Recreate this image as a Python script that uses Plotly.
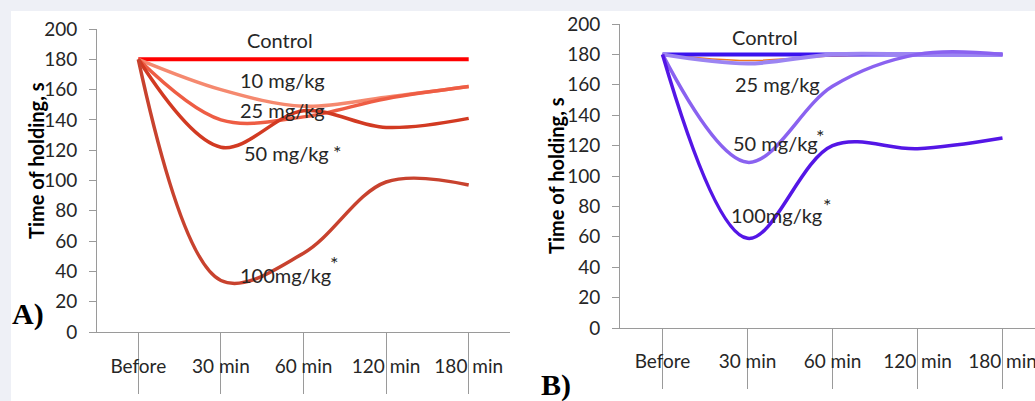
import plotly.graph_objects as go

# ---------------- data ----------------
categories = ["Before", "30 min", "60 min", "120 min", "180 min"]
y_ticks = [0, 20, 40, 60, 80, 100, 120, 140, 160, 180, 200]

# Panel A
a_control = [180, 180, 180, 180, 180]
a_10 = [180, 160, 149, 155, 162]
a_25 = [180, 140, 142, 154, 162]
a_50 = [180, 122, 146, 135, 141]
a_100 = [180, 34, 52, 99, 97]

# Panel B
b_control = [180, 180, 180, 180, 180]
b_10 = [180, 176, 179, 180, 180]
b_25 = [180, 174, 180, 180, 180]
b_50 = [180, 109, 159, 180, 180]
b_100 = [180, 59, 120, 118, 125]

W, H = 1035, 401
FONT = "Lato"
TXT = "#262626"
AX = "#9a9a9a"

xi = list(range(len(categories)))

fig = go.Figure()


def add_line(vals, color, width, xa, ya):
    fig.add_trace(go.Scatter(
        x=xi, y=vals, mode="lines", xaxis=xa, yaxis=ya,
        line=dict(color=color, width=width, shape="spline", smoothing=1.0),
        showlegend=False, hoverinfo="skip"))


# Panel A lines
add_line(a_control, "#ff0000", 4, "x", "y")
add_line(a_10, "#f5896f", 3.5, "x", "y")
add_line(a_25, "#ee5d44", 3.5, "x", "y")
add_line(a_50, "#d23a22", 3.5, "x", "y")
add_line(a_100, "#c8422e", 3.5, "x", "y")

# Panel B lines
add_line(b_10, "#f07820", 1.5, "x2", "y2")
add_line(b_control, "#3a12ee", 4, "x2", "y2")
add_line(b_25, "#9c84f2", 4, "x2", "y2")
add_line(b_50, "#8a62f0", 3.5, "x2", "y2")
add_line(b_100, "#5416e6", 3.5, "x2", "y2")


def px_x(p):
    return p / W


def px_y(p):
    return 1 - p / H


common_x = dict(
    type="linear", tickmode="array", tickvals=xi, ticktext=categories,
    showline=True, linecolor=AX, linewidth=1, showgrid=False, zeroline=False,
    ticks="outside", tickcolor=AX, tickwidth=1, automargin=False,
    ticklabeloverflow="allow",
    tickfont=dict(family=FONT, size=19, color=TXT),
)
common_y = dict(
    range=[0, 200], tickmode="array", tickvals=y_ticks,
    showline=True, linecolor=AX, linewidth=1, showgrid=False, zeroline=False,
    ticks="outside", ticklen=7, tickcolor=AX, tickwidth=1, automargin=False,
    tickfont=dict(family=FONT, size=19, color=TXT),
    ticklabelstandoff=8,
)

fig.update_layout(
    width=W, height=H,
    margin=dict(l=0, r=0, t=0, b=0, autoexpand=False),
    paper_bgcolor="#eef0f6",
    plot_bgcolor="rgba(0,0,0,0)",
    xaxis=dict(common_x, domain=[px_x(97), px_x(510)], range=[-0.5, 4.5],
               anchor="y"),
    yaxis=dict(common_y, domain=[px_y(332), px_y(29)], anchor="x"),
    xaxis2=dict(common_x, domain=[px_x(620), 1.0],
                range=[-0.5, -0.5 + 415 / 85], anchor="y2"),
    yaxis2=dict(common_y, domain=[px_y(328), px_y(24)], anchor="x2"),
)

# x tick marks: labels at category centres, tick lines at boundaries
for ax, tl, so in (("xaxis", 61, -44), ("xaxis2", 60, -44)):
    fig.layout[ax].update(tickson="boundaries", ticklen=tl,
                          ticklabelstandoff=so)

# white panel behind charts
fig.add_shape(type="rect", xref="paper", yref="paper",
              x0=px_x(11), x1=1, y0=0, y1=px_y(11),
              fillcolor="white", line=dict(width=0), layer="below")


def ann(text, x, y, xa, ya, xanchor="center", size=20, **kw):
    fig.add_annotation(text=text, x=x, y=y, xref=xa, yref=ya,
                       xanchor=xanchor, yanchor="middle", showarrow=False,
                       font=dict(family=FONT, size=size, color=TXT), **kw)


# Panel A labels
ann("Control", 1.71, 192.7, "x", "y")
ann("10 mg/kg", 1.74, 166.3, "x", "y")
ann("25 mg/kg", 1.75, 146.5, "x", "y")
ann("50 mg/kg", 1.253, 118, "x", "y", xanchor="left")
ann("*", 2.415, 118.8, "x", "y")
ann("100mg/kg", 1.205, 37.6, "x", "y", xanchor="left")
ann("*", 2.37, 45.5, "x", "y")

# Panel B labels
ann("Control", 1.2, 191.4, "x2", "y2")
ann("25 mg/kg", 0.835, 160.5, "x2", "y2", xanchor="left")
ann("50 mg/kg", 0.808, 121.7, "x2", "y2", xanchor="left")
ann("*", 1.86, 126.3, "x2", "y2")
ann("100mg/kg", 0.78, 74.3, "x2", "y2", xanchor="left")
ann("*", 1.94, 81, "x2", "y2")

# Axis titles
for tx, ty in ((36, 161), (556, 176)):
    fig.add_annotation(text="<b>Time of holding, s</b>", x=px_x(tx),
                       y=px_y(ty), xref="paper", yref="paper", textangle=-90,
                       showarrow=False, xanchor="center", yanchor="middle",
                       font=dict(family=FONT, size=20, color="#000000"))

# Panel letters
for lab, lx, ly in (("A)", 28, 314), ("B)", 556, 385)):
    fig.add_annotation(text="<b>" + lab + "</b>", x=px_x(lx), y=px_y(ly),
                       xref="paper", yref="paper", showarrow=False,
                       xanchor="center", yanchor="middle",
                       font=dict(family="Liberation Serif", size=30,
                                 color="#000"))

fig.write_html(
    "out.html",
    config={"displayModeBar": False},
    post_script="document.body.style.margin='0';"
                "document.body.style.overflow='hidden';",
)
